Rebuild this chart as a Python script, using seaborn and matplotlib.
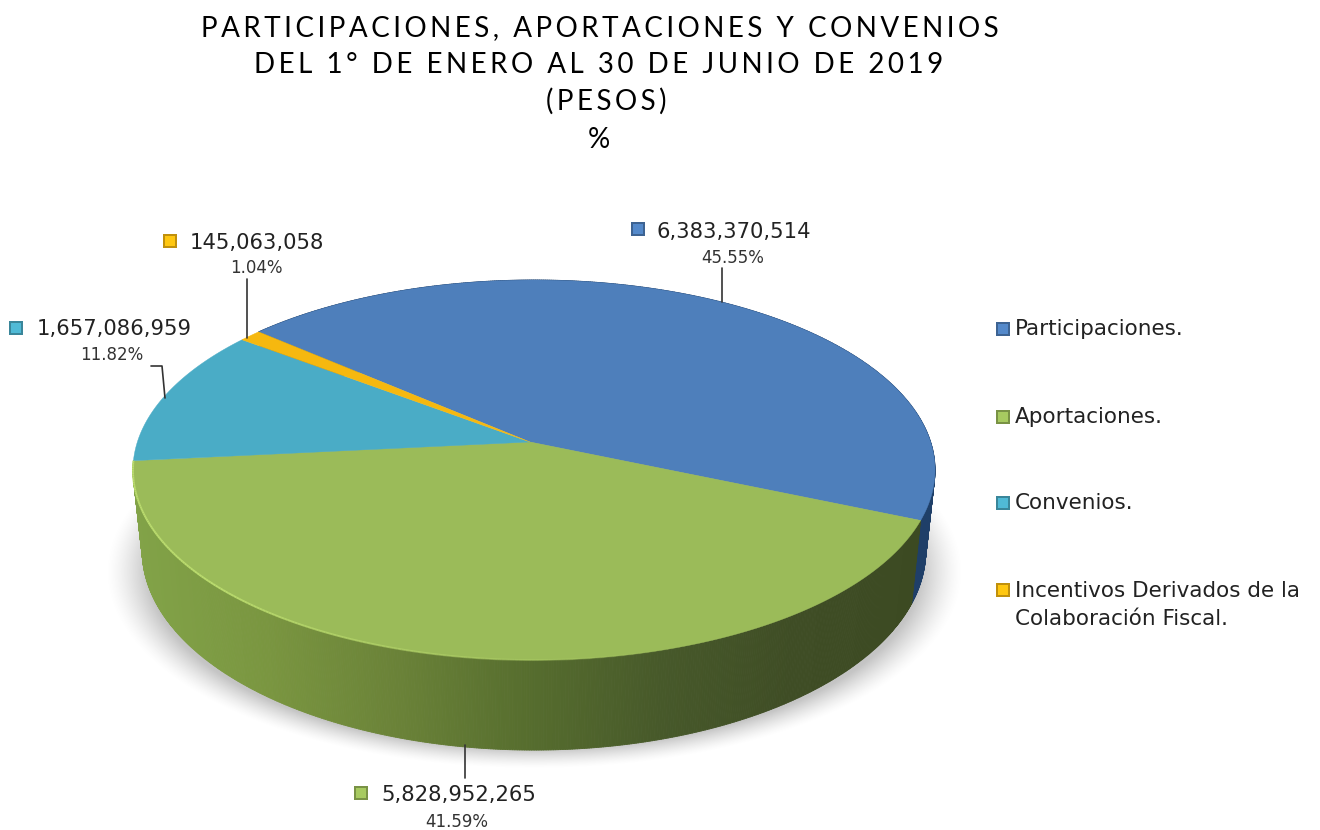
import numpy as np
import pandas as pd
import matplotlib
matplotlib.use("Agg")
import matplotlib.pyplot as plt
from matplotlib.collections import LineCollection, PolyCollection
from matplotlib.colors import LinearSegmentedColormap, to_rgb
from matplotlib.patches import Polygon
import seaborn as sns

# Data
categorias = ["Participaciones.", "Aportaciones.", "Convenios.",
              "Incentivos Derivados de la\nColaboración Fiscal."]
valores = [6383370514, 5828952265, 1657086959, 145063058]
porcentajes = ["45.55%", "41.59%", "11.82%", "1.04%"]
colores = ["#4e7fbb", "#9bbb59", "#4aacc6", "#f6b80f"]
titulo = ["PARTICIPACIONES, APORTACIONES Y CONVENIOS",
          "DEL 1° DE ENERO AL 30 DE JUNIO DE 2019",
          "(PESOS)", "%"]

df = pd.DataFrame({"cat": categorias, "valor": valores, "pct": porcentajes, "color": colores})

sns.set_theme(style="white")
plt.rcParams["font.family"] = ["DejaVu Sans"]

fig, ax = plt.subplots(figsize=(13.2, 8.3), dpi=100)
ax.set_position([0, 0, 1, 1])

wedges, _ = ax.pie(df["valor"], colors=df["color"], startangle=140, counterclock=False)
ax.set_aspect("auto")
ax.set_xlim(0, 1320)
ax.set_ylim(830, 0)
ax.axis("off")


# tilted disc: perspective from the unit circle to pixels
def proyectar(theta, esc_x=1.0, esc_y=1.0, y0=440):
    t = np.radians(theta)
    x, y = np.cos(t), np.sin(t)
    w = 1 + 0.158 * y
    return 534 + esc_x * 396 * x / w, y0 - esc_y * 185.3 * y / w


# soft shadow under the disc
gx, gy = np.meshgrid(np.arange(90, 990), np.arange(440, 790))
d = np.sqrt(((gx - 534) / 428) ** 2 + ((gy - 572) / 196) ** 2)
sombra = np.zeros(d.shape + (4,))
sombra[..., :3] = 0.62
sombra[..., 3] = np.clip((1.0 - d) / 0.10, 0, 1) ** 1.4 * 0.6
ax.imshow(sombra, extent=(90, 990, 790, 440), zorder=1, aspect="auto")

# side wall, small quads coloured by a horizontal gradient
grad_verde = LinearSegmentedColormap.from_list(
    "verde", ["#82a348", "#7a9640", "#6a8238", "#566d2e", "#47592a", "#3f4d25", "#3c4a22"])
grad_azul = LinearSegmentedColormap.from_list("azul", ["#1d3a5e", "#1f3f68"])

for w, cmap in zip(wedges[:2], [grad_azul, grad_verde]):
    th = np.linspace(w.theta1, w.theta2, 500)
    x1, y1 = proyectar(th)
    x2, y2 = proyectar(th, 0.977, 1.05, 519)
    quads = [[(x1[i], y1[i]), (x1[i + 1], y1[i + 1]), (x2[i + 1], y2[i + 1]), (x2[i], y2[i])]
             for i in range(len(th) - 1)]
    tonos = [cmap((x2[i] - 140) / 780) for i in range(len(th) - 1)]
    ax.add_collection(PolyCollection(quads, facecolors=tonos, edgecolors=tonos, linewidths=0.6, zorder=2))

# top face
for w, color in zip(wedges, df["color"]):
    w.set_visible(False)
    th = np.linspace(w.theta1, w.theta2, 300)
    x, y = proyectar(th)
    ax.add_patch(Polygon(np.r_[[[530, 442]], np.c_[x, y]], closed=True, fc=color, ec=color,
                         lw=0.3, zorder=3))

# highlight along the front edge, fading to the right
th = np.linspace(wedges[1].theta1, -70, 200)
x, y = proyectar(th)
puntos = np.c_[x, y]
tramos = np.stack([puntos[:-1], puntos[1:]], axis=1)
brillo = [(0.73, 0.86, 0.43, a) for a in np.clip(np.linspace(1.6, 0, len(tramos)), 0, 1)]
ax.add_collection(LineCollection(tramos, colors=brillo, linewidths=1.4, zorder=4))

# leader lines
lineas_x = [[722, 722], [465, 465], [165, 162, 151], [247, 247]]
lineas_y = [[302, 268], [745, 778], [398, 366, 366], [338, 279]]
for lx, ly in zip(lineas_x, lineas_y):
    ax.plot(lx, ly, color="#333333", lw=1.2, zorder=5)


def cuadro(x, y, color):
    rgb = np.array(to_rgb(color))
    ax.scatter([x], [y], marker="s", s=105, color=rgb * 0.78, edgecolors="none", zorder=6)
    ax.scatter([x], [y], marker="s", s=48, color=np.clip(rgb * 1.08, 0, 1), edgecolors="none", zorder=7)


# data labels
marca_x = [638, 361, 16, 170]
marca_y = [229, 793, 328, 241]
valor_x = [657, 381, 37, 190]
valor_y = [232, 795, 329, 243]
pct_x = [733, 457, 112, 256]
pct_y = [258, 822, 355, 268]
for i, fila in df.iterrows():
    cuadro(marca_x[i], marca_y[i], fila["color"])
    ax.text(valor_x[i], valor_y[i], f"{fila['valor']:,}", fontsize=15.2, color="#222222",
            va="center", ha="left", zorder=8)
    ax.text(pct_x[i], pct_y[i], fila["pct"], fontsize=12, color="#333333",
            va="center", ha="center", zorder=8)

# legend
leyenda_y = [329, 417, 503, 605]
marca_leyenda_y = [329, 417, 503, 590]
for i, fila in df.iterrows():
    cuadro(1003, marca_leyenda_y[i], fila["color"])
    ax.text(1015, leyenda_y[i], fila["cat"], fontsize=15.5, color="#222222",
            va="center", ha="left", linespacing=1.5, zorder=8)

# title, letter spaced
titulo_x = [600, 599, 606, 599]
titulo_y = [36, 73, 110, 148]
for linea, x, y in zip(titulo, titulo_x, titulo_y):
    ax.text(x, y, "\u200a\u200a".join(linea), fontsize=20, color="#000000", ha="center", va="baseline",
            family=["Lato", "DejaVu Sans"])

fig.savefig("out.png", dpi=100)
